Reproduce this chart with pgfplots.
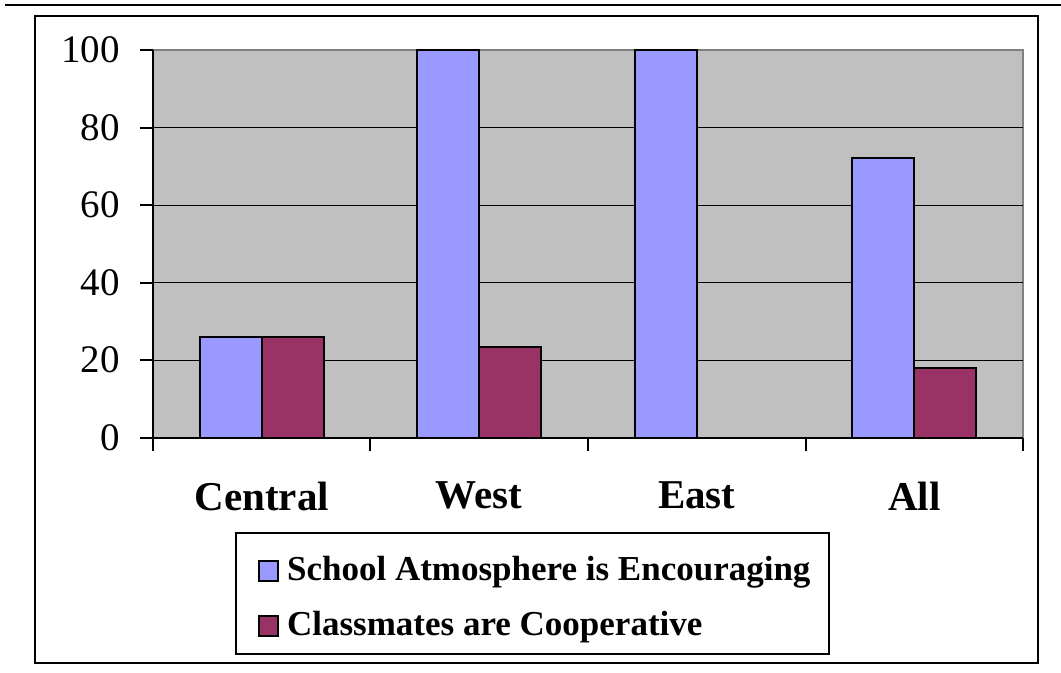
\documentclass[border=0pt]{standalone}
\usepackage{fontspec}
\setmainfont{Liberation Serif}
\usepackage{pgfplots}
\pgfplotsset{compat=1.18}
\definecolor{barblue}{HTML}{9999FF}
\definecolor{barred}{HTML}{993366}
\definecolor{bggray}{HTML}{C0C0C0}
\definecolor{bordergray}{HTML}{808080}
\begin{document}
\begin{tikzpicture}
\useasboundingbox (0,0) rectangle (530.5pt,336.5pt);
\draw[line width=1pt] (2.5pt,334pt) -- (530.5pt,334pt);
\draw[line width=1pt] (17.5pt,5pt) rectangle (519pt,328.5pt);
\begin{axis}[
  at={(76.5pt,117.65pt)}, anchor=south west,
  scale only axis, width=435pt, height=193.85pt,
  ybar=0pt, bar width=31pt,
  xmin=-0.5, xmax=3.5, ymin=0, ymax=100,
  axis lines*=left, axis line style={-, line width=1pt, black},
  axis background/.style={fill=bggray, draw=bordergray, line width=1pt},
  ytick={0,20,40,60,80}, extra y ticks={100}, extra y tick style={grid=none},
  ymajorgrids, grid style={black, line width=0.5pt},
  tick align=outside, major tick length=6.5pt, tick style={black, line width=1pt},
  xtick={-0.5,0.5,1.5,2.5,3.5}, xticklabels={,,,,},
  extra x ticks={0,1,2,3}, extra x tick labels={Central,West,East,All},
  extra x tick style={major tick length=0pt, grid=none},
  xticklabel style={font=\bfseries\fontsize{20.5}{24}\selectfont, anchor=north, inner sep=0pt, yshift=-22pt},
  yticklabel style={font=\fontsize{19.5}{24}\selectfont, anchor=east, inner sep=0pt, xshift=-10pt},
  /pgf/number format/assume math mode=true,
  legend style={at={(0.0938,-0.2425)}, anchor=north west, draw=black, line width=1pt, fill=white,
    inner xsep=9pt, inner ysep=4pt, row sep=2.5pt, column sep=4pt,
    font=\bfseries\fontsize{17.5}{21}\selectfont,
    nodes={inner sep=0pt, text height=20pt, text depth=5pt}},
  legend cell align=left,
]
\addplot[fill=barblue, draw=black, line width=1pt,
  legend image code/.code={\path (0pt,0pt); \draw[fill=barblue,draw=black,line width=1pt] (2pt,-7.5pt) rectangle (11.75pt,2.25pt);}]
  coordinates {(0,26.1) (1,100) (2,100) (3,72.1)};
\addplot[fill=barred, draw=black, line width=1pt,
  legend image code/.code={\path (0pt,0pt); \draw[fill=barred,draw=black,line width=1pt] (2pt,-7.5pt) rectangle (11.75pt,2.25pt);}]
  coordinates {(0,26.1) (1,23.5) (2,0) (3,17.9)};
\legend{School Atmosphere is Encouraging, Classmates are Cooperative}
\end{axis}
\end{tikzpicture}
\end{document}
